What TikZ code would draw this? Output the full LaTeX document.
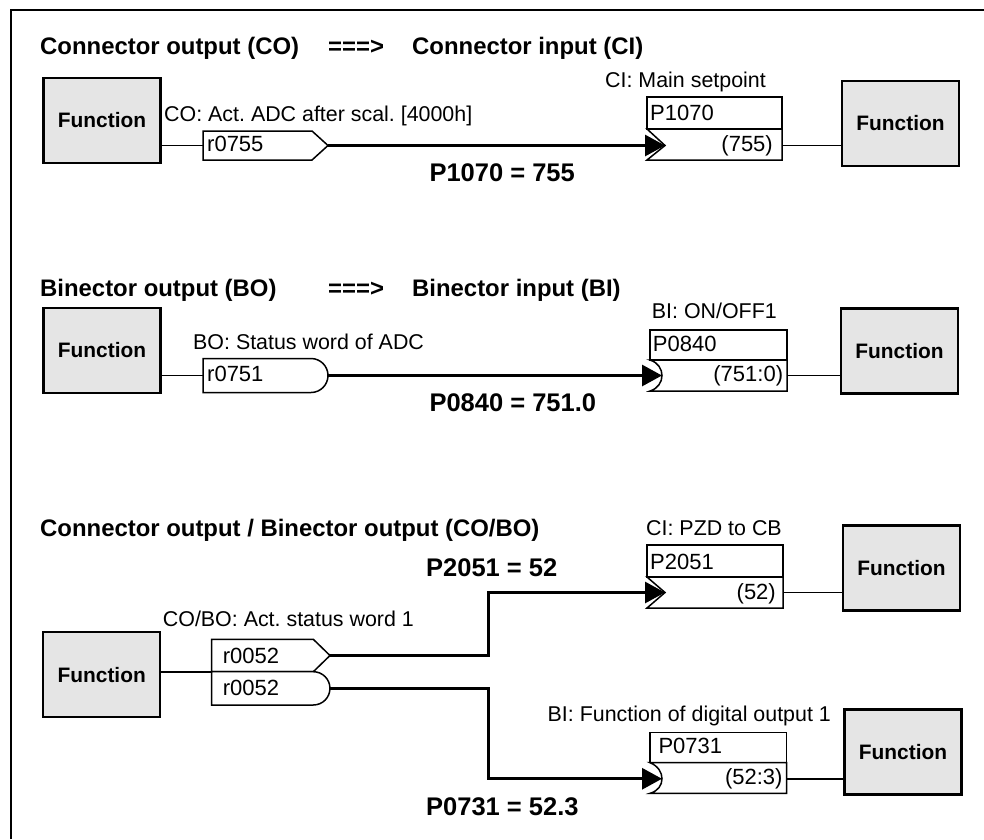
\documentclass[tikz,border=0pt]{standalone}
\usepackage{fontspec}
\setmainfont{Liberation Sans}
\usetikzlibrary{arrows.meta}
\definecolor{fboxgray}{RGB}{229,229,229}
\frenchspacing
\tikzset{
  funcbox/.style={draw, line width=2.2pt, fill=fboxgray, minimum width=117pt, minimum height=85pt, inner sep=0pt, font=\fontsize{20.9}{24}\selectfont\bfseries},
  parbox/.style={draw, line width=1.5pt, fill=white, line join=miter},
  lbl/.style={inner sep=0pt, anchor=base west, font=\fontsize{21.4}{25}\selectfont},
  ptxt/.style={inner sep=0pt, font=\fontsize{22}{26}\selectfont},
  ttl/.style={inner sep=0pt, anchor=base west, font=\fontsize{23.9}{28}\selectfont\bfseries},
  eqn/.style={inner sep=0pt, anchor=base west, font=\fontsize{25.5}{30}\selectfont\bfseries},
  link/.style={line width=1.6pt},
  mainlink/.style={line width=3pt, -{Triangle[length=20pt,width=21pt]}},
}
\begin{document}
\begin{tikzpicture}[x=1pt,y=-1pt]
\useasboundingbox (0,0) rectangle (984,839);
% frame
\draw[line width=2pt] (11,839) -- (11,10) -- (984,10);

% ---------------- Section 1 ----------------
\node[ttl] (t1) at (40,54.5) {\makebox[288pt][l]{Connector output (CO)}\makebox[84pt][l]{===>}Connector input (CI)};
\node[funcbox] (f1) at (102,120.5) {Function};
\draw[parbox] (203,131) -- (312,131) -- (328,145.5) -- (312,160) -- (203,160) -- cycle;
\coordinate (r0755in) at (203,145.5);
\coordinate (r0755out) at (328,145.5);
\node[ptxt, anchor=base west] (r0755) at (207,151.7) {r0755};
\node[lbl] (co1) at (164,121.5) {CO: Act. ADC after scal. [4000h]};

\draw[parbox] (647,97) rectangle (782,129);
\draw[parbox] (647,129) -- (782,129) -- (782,160) -- (647,160) -- (665,145.5) -- cycle;
\coordinate (p1070in) at (665,145.5);
\coordinate (p1070out) at (782,145.5);
\node[ptxt, anchor=base west] (p1070) at (650,120) {P1070};
\node[ptxt, anchor=base east] (p1070v) at (773,151.7) {(755)};
\node[lbl] (ci1) at (605,87) {CI: Main setpoint};
\node[funcbox] (f2) at (900.5,123.5) {Function};

\draw[link] (f1.east |- r0755in) -- (r0755in);
\draw[mainlink] (r0755out) -- (p1070in);
\draw[link] (p1070out) -- (f2.west |- p1070out);
\node[eqn] (eq1) at (429.3,181) {P1070 = 755};

% ---------------- Section 2 ----------------
\node[ttl] (t2) at (40,296) {\makebox[288pt][l]{Binector output (BO)}\makebox[84pt][l]{===>}Binector input (BI)};
\node[funcbox] (f3) at (102,350.5) {Function};
\draw[parbox] (203,358.5) -- (311,358.5) arc[start angle=90, end angle=-90, radius=17pt] -- (203,392.5) -- cycle;
\coordinate (r0751in) at (203,375.5);
\coordinate (r0751out) at (328,375.5);
\node[ptxt, anchor=base west] (r0751) at (207,381.7) {r0751};
\node[lbl] (bo2) at (193,349.3) {BO: Status word of ADC};

\draw[parbox] (650,330) rectangle (787,360);
\draw[parbox] (650,360) .. controls (666,365) and (666,386) .. (650,391) -- (787,391) -- (787,360) -- cycle;
\coordinate (p0840in) at (662,375.5);
\coordinate (p0840out) at (787,375.5);
\node[ptxt, anchor=base west] (p0840) at (652.7,351.7) {P0840};
\node[ptxt, anchor=base east] (p0840v) at (783.3,381.7) {(751:0)};
\node[lbl] (bi2) at (651.7,318.3) {BI: ON/OFF1};
\node[funcbox] (f4) at (899.5,351) {Function};

\draw[link] (f3.east |- r0751in) -- (r0751in);
\draw[mainlink] (r0751out) -- (p0840in);
\draw[link] (p0840out) -- (f4.west |- p0840out);
\node[eqn] (eq2) at (429.3,411.5) {P0840 = 751.0};

% ---------------- Section 3 ----------------
\node[ttl] (t3) at (40,536.7) {Connector output / Binector output (CO/BO)};
\node[eqn] (eq3) at (426,576.7) {P2051 = 52};
\node[lbl] (cobo) at (162.7,626.7) {CO/BO: Act. status word 1};
\node[funcbox] (f5) at (101.7,674.7) {Function};
\draw[parbox] (211.7,639.3) -- (313.3,639.3) -- (330,655.5) -- (313.3,671.7) -- (211.7,671.7) -- cycle;
\draw[parbox] (211.7,671.7) -- (313.3,671.7) arc[start angle=90, end angle=-90, radius=16.65pt] -- (211.7,705) -- cycle;
\coordinate (r52in) at (211.7,671.7);
\coordinate (r52aout) at (330,655.5);
\coordinate (r52bout) at (330,688.35);
\node[ptxt, anchor=base west] (r52a) at (222.7,663.3) {r0052};
\node[ptxt, anchor=base west] (r52b) at (222.7,695) {r0052};
\coordinate (bendx) at (488,0);

\draw[parbox] (647,545) rectangle (783,577);
\draw[parbox] (647,577) -- (783,577) -- (783,608) -- (647,608) -- (665,592.5) -- cycle;
\coordinate (p2051in) at (665,592.5);
\coordinate (p2051out) at (783,592.5);
\node[ptxt, anchor=base west] (p2051) at (650,569) {P2051};
\node[ptxt, anchor=base east] (p2051v) at (776,599) {(52)};
\node[lbl] (ci3) at (646,535) {CI: PZD to CB};
\node[funcbox] (f6) at (901.5,568) {Function};

\draw[parbox] (650,732.3) rectangle (786.7,762.7);
\draw[parbox] (650,762.7) .. controls (666,769) and (666,789) .. (650,793.3) -- (786.7,793.3) -- (786.7,762.7) -- cycle;
\coordinate (p0731in) at (662,778.75);
\coordinate (p0731out) at (786.7,778.75);
\node[ptxt, anchor=base west] (p0731) at (658.3,753.3) {P0731};
\node[ptxt, anchor=base east] (p0731v) at (782.7,784) {(52:3)};
\node[lbl] (bi3) at (547.5,721.7) {BI: Function of digital output 1};
\node[funcbox] (f7) at (903,752) {Function};

\draw[link] (f5.east |- r52in) -- (r52in);
\draw[mainlink] (r52aout) -| (bendx |- p2051in) -- (p2051in);
\draw[mainlink] (r52bout) -| (bendx |- p0731in) -- (p0731in);
\draw[link] (p2051out) -- (f6.west |- p2051out);
\draw[link] (p0731out) -- (f7.west |- p0731out);
\node[eqn] (eq4) at (426,815.5) {P0731 = 52.3};
\end{tikzpicture}
\end{document}
